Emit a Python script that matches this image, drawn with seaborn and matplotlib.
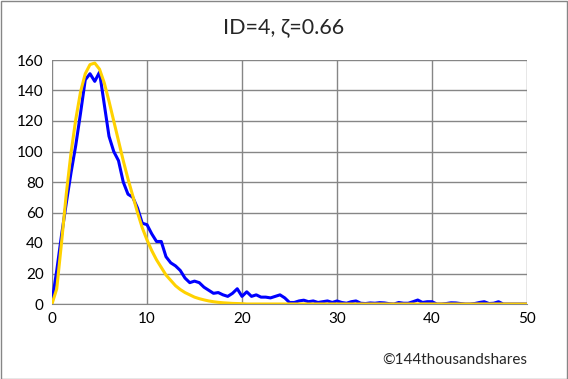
import numpy as np
import pandas as pd
import matplotlib
matplotlib.use('Agg')
import matplotlib.pyplot as plt
import seaborn as sns

# x grid (step 0.5 from 0 to 50)
x_vals = [i * 0.5 for i in range(101)]

# observed distribution (blue)
observed = [1.5, 22, 45, 66, 86, 104, 125, 147, 151, 146,
            152, 131, 110, 100, 94, 80, 72, 70, 63, 53,
            52, 46, 41, 41, 31, 27, 25, 22, 17, 14,
            15, 14, 11, 9, 7, 7.5, 6, 5, 7, 10,
            5, 8, 5, 6, 4.5, 4.5, 4, 5, 6, 4,
            1, 1, 2, 2.5, 1.5, 2, 1, 1.5, 2, 1,
            2, 1, 0.5, 1.5, 2, 0.5, 0.3, 0.7, 0.5, 0.9,
            0.7, 0.2, 0, 1, 0.5, 0.5, 1.5, 2.6, 1, 1.5,
            1.5, 0, 0, 0.3, 0.8, 0.7, 0.3, 0, 0, 0.3,
            1, 1.5, 0.3, 0.5, 1.5, 0, 0, 0, 0, 0, 0]

# fitted curve (yellow)
fitted = [0, 10, 40, 72, 99, 121, 139, 151, 157, 158,
          154, 145, 133, 120, 107, 94, 82, 71, 60, 50,
          42, 35, 29, 24, 19, 15.5, 12, 9.5, 7.5, 6,
          4.5, 3.5, 2.7, 2, 1.5, 1.1, 0.8, 0.6, 0.4, 0.3,
          0.2] + [0] * 60

df = pd.DataFrame({'x': x_vals, 'observed': observed, 'fitted': fitted})

sns.set_style('white')
plt.rcParams['font.family'] = ['Lato', 'DejaVu Sans']

fig = plt.figure(figsize=(5.68, 3.79), dpi=100)
ax = fig.add_axes([52 / 568, 1 - 304 / 379, 475 / 568, 244 / 379])

sns.lineplot(data=df, x='x', y='observed', color='#0000FF', linewidth=2.2, ax=ax,
             solid_joinstyle='round', solid_capstyle='round')
sns.lineplot(data=df, x='x', y='fitted', color='#FFD200', linewidth=2.2, ax=ax,
             solid_joinstyle='round', solid_capstyle='round')

ax.set_xlim(0, 50)
ax.set_ylim(0, 160)
ax.set_xticks(range(0, 51, 10))
ax.set_yticks(range(0, 161, 20))
ax.grid(True, color='#868686', linewidth=1)
ax.set_axisbelow(True)
for s in ax.spines.values():
    s.set_visible(False)
ax.spines['bottom'].set_visible(True)
ax.spines['bottom'].set_color('#868686')
ax.tick_params(length=0, labelsize=11, colors='#000000', pad=6)
ax.set_xlabel('')
ax.set_ylabel('')

fig.text(0.5, 1 - 27 / 379, 'ID=4, ζ=0.66', ha='center', va='center', fontsize=15.5)
fig.text(527 / 568, 1 - 360 / 379, '©144thousandshares', ha='right', va='center', fontsize=11)

# outer border
fig.patches.append(plt.Rectangle((0.001, 0.001), 0.997, 0.996, transform=fig.transFigure,
                                 fill=False, edgecolor='#868686', linewidth=1))

fig.savefig('out.png', dpi=100)
